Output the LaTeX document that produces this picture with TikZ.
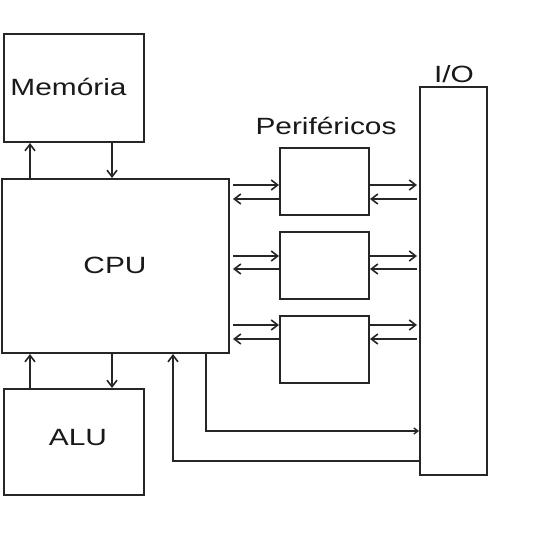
\documentclass[tikz,border=0pt]{standalone}
\usepackage{fontspec}
\setmainfont[FakeStretch=1.27]{Liberation Sans}
\usetikzlibrary{arrows.meta,calc}
\begin{document}
\begin{tikzpicture}[x=1pt,y=-1pt,
  box/.style={draw=black!85,line width=2pt,inner sep=0pt},
  conn/.style={draw=black!85,line width=2pt,-{Straight Barb[length=6.5pt,width=10pt,line width=1.6pt]}},
  lbl/.style={font=\fontsize{23.5}{26}\selectfont,inner sep=0pt,text=black!90}]
\useasboundingbox (0,0) rectangle (535,540);
% main boxes
\node[box,minimum width=140pt,minimum height=108pt] (mem) at (74,88) {};
\node[lbl] at (68.5,87) {Memória};
\node[box,minimum width=227pt,minimum height=174pt] (cpu) at (115.5,266) {};
\node[lbl] at (115,265) {CPU};
\node[box,minimum width=140pt,minimum height=106pt] (alu) at (74,442) {};
\node[lbl] at (78,438) {ALU};
% peripherals
\node[box,minimum width=89pt,minimum height=67pt] (p1) at (324.5,181.5) {};
\node[box,minimum width=89pt,minimum height=67pt] (p2) at (324.5,265.5) {};
\node[box,minimum width=89pt,minimum height=67pt] (p3) at (324.5,349.5) {};
\node[lbl] (per) at (326,126) {Periféricos};
% I/O
\node[box,minimum width=67pt,minimum height=388pt] (io) at (453.5,281) {};
\node[lbl,anchor=south] (iol) at (454,83) {I/O};
% memory <-> cpu
\draw[conn] ($(cpu.north west)+(29,0)$) -- ($(mem.south west)+(27,0)$);
\draw[conn] ($(mem.south west)+(109,0)$) -- ($(cpu.north west)+(111,0)$);
% alu <-> cpu
\draw[conn] ($(alu.north west)+(27,0)$) -- ($(cpu.south west)+(29,0)$);
\draw[conn] ($(cpu.south west)+(111,0)$) -- ($(alu.north west)+(109,0)$);
% peripheral arrows
\foreach \p/\ya/\yb in {p1/185/199, p2/256/269, p3/325/339}{
  \coordinate (ya) at (0,\ya);
  \coordinate (yb) at (0,\yb);
  \draw[conn,shorten <=3pt] (cpu.east |- ya) -- (\p.west |- ya);
  \draw[conn,shorten >=3pt] (\p.west |- yb) -- (cpu.east |- yb);
  \draw[conn,shorten >=2pt] (\p.east |- ya) -- (io.west |- ya);
  \draw[conn,shorten <=2pt] (io.west |- yb) -- (\p.east |- yb);
}
% bottom loops
\coordinate (c1) at (206,431);
\coordinate (c2) at (173,461);
\draw[draw=black!85,line width=2pt,-{Straight Barb[length=4pt,width=6pt,line width=1.4pt]}] (cpu.south -| c1) -- (c1) -- (io.west |- c1);
\draw[conn] (io.west |- c2) -- (c2) -- (cpu.south -| c2);
\end{tikzpicture}
\end{document}
